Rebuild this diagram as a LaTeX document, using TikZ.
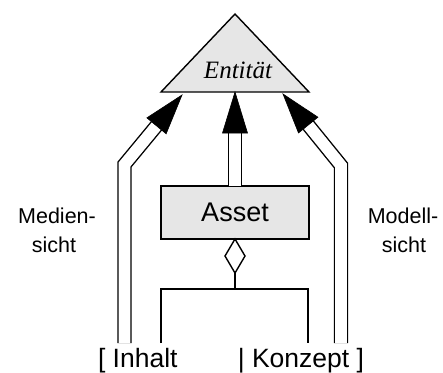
\documentclass[tikz,border=0pt]{standalone}
\usepackage{fontspec}
\setmainfont{Liberation Sans}
\newfontfamily\entfont{Liberation Serif}
\usetikzlibrary{calc,shapes.geometric}
\definecolor{boxgray}{HTML}{E6E6E6}

\begin{document}
\begin{tikzpicture}[x=1pt,y=-1pt,
  every node/.style={inner sep=0pt, outer sep=0pt},
  line/.style={draw=black, line width=1.4pt, line join=miter},
  twin/.style={draw=black, line width=1.4pt, double=white, double distance=11.6pt, line join=miter},
  headfill/.style={fill=black, draw=black, line width=0.6pt, line join=miter},
  lbl/.style={font=\fontsize{21.5}{26}\selectfont, anchor=base},
  bottomtext/.style={font=\fontsize{26.5}{32}\selectfont},
]
\useasboundingbox (0,0) rectangle (443,372);

% generalisation target: the entity triangle
\coordinate (apex) at (235,14);
\coordinate (bl) at (161,92);
\coordinate (br) at (309,92);
\draw[line, fill=boxgray] (apex) -- (bl) -- (br) -- cycle;
\node[font=\entfont\itshape\fontsize{25}{30}\selectfont, anchor=base] (ent) at (238,78) {Entität};

% asset class with aggregation diamond
\node[line, fill=boxgray, minimum width=148pt, minimum height=53pt,
      font=\fontsize{27}{32}\selectfont] (asset) at (235,212.5) {Asset};
\node[line, fill=white, diamond, minimum width=20pt, minimum height=34pt,
      anchor=north] (dia) at (asset.south) {};

% aggregation fork down to the two parts
\coordinate (jl) at (161,289);
\coordinate (jr) at (308,289);
\coordinate (jn) at (dia.south |- jl);
\coordinate (el) at (161,343);
\coordinate (er) at (308,343);
\draw[line] (dia.south) -- (jn);
\draw[line] (el) -- (jl) -- (jr) -- (er);

% middle derivation arrow: asset -> entity
\coordinate (mtip) at (asset.north |- bl);
\coordinate (mbase) at ($(mtip)!41pt!(asset.north)$);
\draw[twin] (asset.north) -- (mbase);
\fill[headfill] (mtip) -- ($(mbase)!12.5pt!90:(mtip)$) -- ($(mbase)!12.5pt!-90:(mtip)$) -- cycle;

% left derivation arrow (media view)
\coordinate (lfoot) at (124.5,343);
\coordinate (lbend) at (124.5,164.5);
\coordinate (ltip) at (182,95);
\coordinate (lbase) at ($(ltip)!40pt!(lbend)$);
\draw[twin] (lfoot) -- (lbend) -- (lbase);
\fill[headfill] (ltip) -- ($(lbase)!12.5pt!90:(ltip)$) -- ($(lbase)!12.5pt!-90:(ltip)$) -- cycle;

% right derivation arrow (model view)
\coordinate (rfoot) at (341,343);
\coordinate (rbend) at (341,165.5);
\coordinate (rtip) at (283,94);
\coordinate (rbase) at ($(rtip)!40pt!(rbend)$);
\draw[twin] (rfoot) -- (rbend) -- (rbase);
\fill[headfill] (rtip) -- ($(rbase)!12.5pt!90:(rtip)$) -- ($(rbase)!12.5pt!-90:(rtip)$) -- cycle;

% side labels
\node[lbl] (med1) at (57,223) {Medien-};
\node[lbl] (med2) at (54,252) {sicht};
\node[lbl] (mod1) at (403,223) {Modell-};
\node[lbl] (mod2) at (404,252) {sicht};

% bottom alternatives
\node[bottomtext, anchor=base west] (inh) at (98,367) {[ Inhalt};
\node[bottomtext, anchor=base east] (kon) at (364,367) {| Konzept ]};
\end{tikzpicture}
\end{document}
